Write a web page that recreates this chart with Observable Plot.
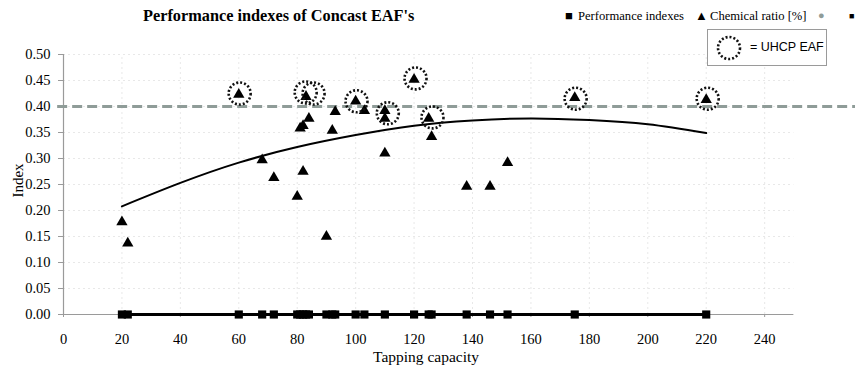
<!DOCTYPE html>
<html><head><meta charset="utf-8">
<script src="https://cdn.jsdelivr.net/npm/d3@7"></script>
<script src="https://cdn.jsdelivr.net/npm/@observablehq/plot@0.6"></script>
<style>
body{margin:0;background:#fff;}
#wrap{position:relative;width:855px;height:365px;overflow:hidden;background:#fff;}
.t{position:absolute;white-space:nowrap;font-family:"Liberation Serif","Times New Roman",serif;color:#000;}
</style></head><body><div id="wrap"></div>
<script>
// Chemical ratio [%] (triangles)
const capacity      = [20, 22, 60, 68, 72, 80, 81, 82, 82, 83, 84, 90, 92, 93, 100, 103, 110, 110, 110, 120, 125, 126, 138, 146, 152, 175, 220];
const chemicalRatio = [0.178, 0.137, 0.423, 0.297, 0.263, 0.227, 0.358, 0.363, 0.275, 0.419, 0.377, 0.150, 0.354, 0.390, 0.410, 0.392, 0.310, 0.392, 0.377, 0.452, 0.377, 0.342, 0.246, 0.246, 0.292, 0.417, 0.413];
// Performance indexes (squares on the zero line)
const perfCapacity = [20, 22, 60, 68, 72, 80, 81, 82, 83, 84, 90, 92, 93, 100, 103, 110, 120, 125, 126, 138, 146, 152, 175, 220];
const perfIndex    = [0, 0, 0, 0, 0, 0, 0, 0, 0, 0, 0, 0, 0, 0, 0, 0, 0, 0, 0, 0, 0, 0, 0, 0];
// UHCP EAF (dotted circles)
const uhcpCapacity = [60.3, 82.9, 85.6, 100.3, 111, 120.5, 126.3, 175.3, 220.5];
const uhcpRatio    = [0.425, 0.427, 0.425, 0.410, 0.387, 0.454, 0.379, 0.415, 0.415];
// Trend line
const trendCapacity = [20, 40, 60, 80, 100, 120, 140, 160, 180, 200, 220];
const trendIndex    = [0.208, 0.253, 0.292, 0.322, 0.345, 0.363, 0.373, 0.377, 0.374, 0.366, 0.349];
// Reference level
const referenceLevel = [0.40];
// Ticks
const xTicks = [0, 20, 40, 60, 80, 100, 120, 140, 160, 180, 200, 220, 240];
const yTicks = [0, 0.05, 0.10, 0.15, 0.20, 0.25, 0.30, 0.35, 0.40, 0.45, 0.50];

const tri = capacity.map((c, i) => ({x: c, y: chemicalRatio[i]}));
const perf = perfCapacity.map((c, i) => ({x: c, y: perfIndex[i]}));
const uhcp = uhcpCapacity.map((c, i) => ({x: c, y: uhcpRatio[i]}));
const trend = trendCapacity.map((c, i) => ({x: c, y: trendIndex[i]}));

const serif = '"Liberation Serif","Times New Roman",serif';

const chart = Plot.plot({
  width: 855, height: 365,
  marginLeft: 63, marginRight: 0, marginTop: 54, marginBottom: 51,
  x: {domain: [0, 271.1]},
  y: {domain: [0, 0.5]},
  style: {fontFamily: serif, fontSize: "14.5px", background: "white", color: "black", overflow: "visible"},
  marks: [
    Plot.gridY(yTicks.filter(d => d > 0), {x1: 0, x2: 250, stroke: "#d8d8d8", strokeOpacity: 0.6, strokeDasharray: "2,3"}),
    Plot.gridX(xTicks.filter(d => d > 0), {y1: 0, y2: 0.5, stroke: "#d8d8d8", strokeOpacity: 0.6, strokeDasharray: "2,3"}),
    Plot.ruleX([0], {y1: 0, y2: 0.5, stroke: "#9a9a9a", strokeWidth: 1.2}),
    Plot.ruleY([0], {x1: 0, x2: 250, stroke: "#9a9a9a", strokeWidth: 1.2}),
    Plot.axisY({ticks: yTicks, tickSize: 5, tickPadding: 8, tickFormat: d => d.toFixed(2), label: null, stroke: "#9a9a9a", style: {letterSpacing: "0.6px"}}),
    Plot.axisX({ticks: xTicks, tickSize: 3, tickPadding: 16, label: null, stroke: "#9a9a9a", style: {letterSpacing: "0.6px"}}),
    Plot.ruleY(referenceLevel, {x1: -2, x2: 271.1, stroke: "#8f9c98", strokeWidth: 3, strokeDasharray: "10,5"}),
    Plot.line(trend, {x: "x", y: "y", curve: "natural", stroke: "black", strokeWidth: 2}),
    Plot.line(perf, {x: "x", y: "y", stroke: "black", strokeWidth: 3}),
    Plot.dot(perf, {x: "x", y: "y", symbol: "square", r: 4.6, fill: "black", stroke: "none"}),
    Plot.dot(tri, {x: "x", y: "y", symbol: "triangle", r: 4.2, fill: "black", stroke: "none"}),
    Plot.dot(uhcp, {x: "x", y: "y", r: 11, fill: "none", stroke: "#111", strokeWidth: 2.6, strokeDasharray: "2,2"})
  ]
});
const wrap = document.getElementById("wrap");
wrap.appendChild(chart);

function addText(txt, css) {
  const d = document.createElement("div");
  d.className = "t";
  d.textContent = txt;
  Object.assign(d.style, css);
  wrap.appendChild(d);
  return d;
}
// Title
addText("Performance indexes of Concast EAF's", {left: "143px", top: "6px", fontSize: "16.3px", fontWeight: "bold"});
// Axis titles
addText("Tapping capacity", {left: "373px", top: "350px", fontSize: "15.5px", lineHeight: "14px"});
addText("Index", {left: "1px", top: "172px", fontSize: "15px", transform: "rotate(-90deg)", transformOrigin: "center"});
// Legend
addText("\u25A0", {left: "565px", top: "8px", fontSize: "13px"});
addText("Performance indexes", {left: "578px", top: "9px", fontSize: "12.6px"});
addText("\u25B2", {left: "695px", top: "8px", fontSize: "13px"});
addText("Chemical ratio [%]", {left: "710px", top: "9px", fontSize: "12.6px"});
addText("\u25CF", {left: "818px", top: "9px", fontSize: "11px", color: "#8f9c98"});
addText("\u25A0", {left: "849px", top: "11px", fontSize: "9px"});
// UHCP box
const box = document.createElement("div");
Object.assign(box.style, {position: "absolute", left: "707px", top: "29px", width: "120px", height: "37px", border: "1px solid #9a9a9a", background: "white", boxSizing: "border-box"});
box.innerHTML = '<svg width="40" height="36" style="position:absolute;left:6px;top:0"><circle cx="15" cy="18" r="11" fill="none" stroke="#111" stroke-width="2.6" stroke-dasharray="2,2"/></svg>' +
  '<span style="position:absolute;left:42px;top:10px;font-family:\'Liberation Sans\',Arial,sans-serif;font-size:12.5px;white-space:nowrap">= UHCP EAF</span>';
wrap.appendChild(box);
</script>
</body></html>
